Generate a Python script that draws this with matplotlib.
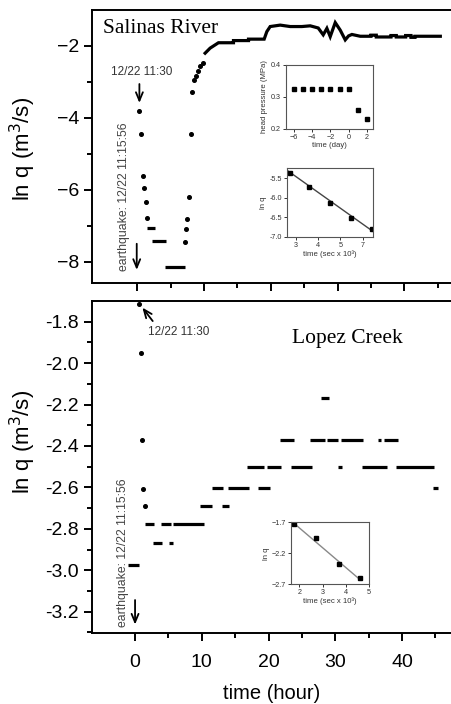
import matplotlib
matplotlib.use("Agg")
import matplotlib.pyplot as plt

plt.rcParams['font.family'] = ['Liberation Sans', 'DejaVu Sans']

# ---- Salinas River (top panel), time in hours, ln q ----
sal_dot_t = [0.3, 0.55, 0.8, 1.0, 1.26, 1.45, 7.15, 7.3, 7.5, 7.75, 8.0, 8.2, 8.55, 8.8, 9.15, 9.45, 9.8]
sal_dot_q = [-3.81, -4.45, -5.61, -5.95, -6.35, -6.79, -7.45, -7.08, -6.8, -6.2, -4.45, -3.28, -2.94, -2.83, -2.69, -2.57, -2.48]
sal_run_t0 = [1.4, 2.15, 4.15]
sal_run_t1 = [2.65, 4.3, 7.15]
sal_run_q = [-7.07, -7.43, -8.15]
sal_trace_t = [10.15, 10.9, 11.65, 12.15, 14.4, 14.4, 16.65, 16.65, 19.0, 19.4, 19.9,
               21.4, 22.9, 24.65, 25.9, 27.1, 27.85, 28.4, 28.9, 29.65, 30.4,
               31.15, 31.65, 32.15, 33.4, 35.0, 35.0, 35.8, 35.8, 38.0, 38.0,
               38.8, 38.8, 40.2, 40.2, 41.0, 41.0, 41.6, 41.6, 45.4]
sal_trace_q = [-2.2, -2.06, -1.97, -1.91, -1.91, -1.85, -1.85, -1.81, -1.81, -1.6, -1.46,
               -1.42, -1.46, -1.46, -1.44, -1.5, -1.69, -1.51, -1.74, -1.35, -1.56,
               -1.83, -1.72, -1.68, -1.73, -1.73, -1.70, -1.70, -1.75, -1.75, -1.71,
               -1.71, -1.75, -1.75, -1.71, -1.71, -1.76, -1.76, -1.73, -1.73]

# ---- Lopez Creek (bottom panel) ----
lop_dot_t = [0.65, 0.85, 1.0, 1.25, 1.5]
lop_dot_q = [-1.715, -1.95, -2.37, -2.61, -2.69]
lop_run_t0 = [-1.0, 1.5, 3.85, 5.75, 2.65, 5.15, 9.7, 13.0, 11.6, 14.0, 18.5, 44.7,
              16.85, 19.75, 23.4, 30.35, 33.95, 39.15, 21.65, 26.25, 28.8, 30.8, 36.4, 37.25, 27.9]
lop_run_t1 = [0.65, 2.9, 5.35, 10.35, 4.1, 5.7, 11.55, 14.1, 13.15, 17.15, 20.15, 45.4,
              19.25, 21.85, 26.5, 31.0, 37.7, 44.75, 23.75, 28.5, 30.4, 34.15, 36.9, 39.35, 29.0]
lop_run_q = [-2.975, -2.775, -2.775, -2.775, -2.87, -2.87, -2.69, -2.69, -2.605, -2.605, -2.605, -2.605,
             -2.5, -2.5, -2.5, -2.5, -2.5, -2.5, -2.37, -2.37, -2.37, -2.37, -2.37, -2.37, -2.17]

# ---- insets ----
head_day = [-6, -5, -4, -3, -2, -1, 0, 1, 2]
head_mpa = [0.326, 0.326, 0.326, 0.326, 0.326, 0.326, 0.326, 0.258, 0.232]
sal_fit_t = [2.73, 3.6, 4.53, 5.46, 6.4]
sal_fit_q = [-5.355, -5.72, -6.13, -6.52, -6.81]
sal_line_t = [2.62, 6.48]
sal_line_q = [-5.3, -6.87]
lop_fit_t = [1.78, 2.73, 3.69, 4.63]
lop_fit_q = [-1.73, -1.96, -2.37, -2.6]
lop_line_t = [1.78, 4.63]
lop_line_q = [-1.72, -2.63]

fig = plt.figure(figsize=(4.51, 7.04), dpi=100)
ax1 = fig.add_axes([0.2033, 0.5984, 0.7967, 0.3874])
ax2 = fig.add_axes([0.2033, 0.1004, 0.7967, 0.4725])

for ax in (ax1, ax2):
    ax.spines['right'].set_visible(False)
    for s in ('left', 'top', 'bottom'):
        ax.spines[s].set_linewidth(1.4)
    ax.tick_params(which='both', direction='out', width=1.4, labelsize=14, pad=3)
    ax.tick_params(which='major', length=6)
    ax.tick_params(which='minor', length=3.5)
    ax.set_xticks([0, 10, 20, 30, 40])
    ax.set_xticks([5, 15, 25, 35, 45], minor=True)

# top panel
ax1.plot(sal_dot_t, sal_dot_q, 'o', color='black', markersize=2.6)
ax1.hlines(sal_run_q, sal_run_t0, sal_run_t1, color='black', linewidth=2.3)
ax1.plot(sal_trace_t, sal_trace_q, color='black', linewidth=2.3, solid_joinstyle='miter')
ax1.set_xlim(-6.85, 47.0)
ax1.set_ylim(-8.58, -1.0)
ax1.set_yticks([-2, -4, -6, -8])
ax1.set_yticks([-3, -5, -7], minor=True)
ax1.tick_params(axis='x', labelbottom=False)
ax1.set_ylabel('ln q (m$^3$/s)', fontsize=16)
ax1.yaxis.set_label_coords(-0.149, 0.492)
ax1.text(-5.1, -1.51, 'Salinas River', family='Liberation Serif', fontsize=15.5, va='center', ha='left')
ax1.text(0.66, -2.71, '12/22 11:30', fontsize=8.5, color='#333333', ha='center', va='center')
ax1.annotate('', xy=(0.3, -3.66), xytext=(0.3, -2.98),
             arrowprops=dict(arrowstyle='->,head_width=0.25,head_length=0.6', color='black', lw=1.3))
ax1.text(-1.95, -6.19, 'earthquake: 12/22 11:15:56', rotation=90, fontsize=8.8,
         color='#444444', ha='center', va='center')
ax1.annotate('', xy=(-0.1, -8.3), xytext=(-0.1, -7.42),
             arrowprops=dict(arrowstyle='->,head_width=0.25,head_length=0.6', color='black', lw=1.3))

# bottom panel
ax2.plot(lop_dot_t, lop_dot_q, 'o', color='black', markersize=2.6)
ax2.hlines(lop_run_q, lop_run_t0, lop_run_t1, color='black', linewidth=2.3)
ax2.set_xlim(-6.5, 47.35)
ax2.set_ylim(-3.304, -1.699)
ax2.set_yticks([-1.8, -2.0, -2.2, -2.4, -2.6, -2.8, -3.0, -3.2])
ax2.set_yticks([-1.9, -2.1, -2.3, -2.5, -2.7, -2.9, -3.1, -3.3], minor=True)
ax2.yaxis.set_major_formatter(matplotlib.ticker.FormatStrFormatter('%.1f'))
ax2.tick_params(axis='x', pad=9)
ax2.set_xlabel('time (hour)', fontsize=14.5)
ax2.xaxis.set_label_coords(0.5, -0.152)
ax2.set_ylabel('ln q (m$^3$/s)', fontsize=16)
ax2.yaxis.set_label_coords(-0.149, 0.574)
ax2.text(23.5, -1.88, 'Lopez Creek', family='Liberation Serif', fontsize=15.5, va='center', ha='left')
ax2.text(6.6, -1.85, '12/22 11:30', fontsize=8.5, color='#333333', ha='center', va='center')
ax2.annotate('', xy=(0.85, -1.722), xytext=(2.9, -1.808),
             arrowprops=dict(arrowstyle='->,head_width=0.25,head_length=0.6', color='black', lw=1.3))
ax2.text(-1.75, -2.917, 'earthquake: 12/22 11:15:56', rotation=90, fontsize=8.8,
         color='#444444', ha='center', va='center')
ax2.annotate('', xy=(0.0, -3.275), xytext=(0.0, -3.13),
             arrowprops=dict(arrowstyle='->,head_width=0.25,head_length=0.6', color='black', lw=1.3))


def style_inset(ax):
    for s in ax.spines.values():
        s.set_linewidth(0.8)
        s.set_color('#555555')
    ax.tick_params(which='both', direction='out', length=2, width=0.7, labelsize=5.2,
                   pad=1.5, colors='#333333', top=False, right=False)


in1 = fig.add_axes([0.6335, 0.8168, 0.1942, 0.0909])
style_inset(in1)
in1.plot(head_day, head_mpa, 's', color='black', markersize=2.6)
in1.set_xlim(-6.9, 2.7)
in1.set_ylim(0.2, 0.4)
in1.set_xticks([-6, -4, -2, 0, 2])
in1.set_yticks([0.2, 0.3, 0.4])
in1.set_xlabel('time (day)', fontsize=5.6, labelpad=1, color='#333333')
in1.set_ylabel('head pressure (MPa)', fontsize=5.6, labelpad=2, color='#333333')

in2 = fig.add_axes([0.637, 0.6638, 0.1907, 0.0972])
style_inset(in2)
in2.plot(sal_line_t, sal_line_q, color='#444444', linewidth=1.0)
in2.plot(sal_fit_t, sal_fit_q, 's', color='black', markersize=2.8)
in2.set_xlim(2.61, 6.48)
in2.set_ylim(-7.0, -5.24)
in2.set_xticks([3, 4, 5, 6])
in2.set_xticklabels(['3', '4', '5', '7'])
in2.set_yticks([-5.5, -6.0, -6.5, -7.0])
in2.yaxis.set_major_formatter(matplotlib.ticker.FormatStrFormatter('%.1f'))
in2.set_xlabel('time (sec x 10³)', fontsize=5.6, labelpad=1, color='#333333')
in2.set_ylabel('ln q', fontsize=5.6, labelpad=2, color='#333333')

in3 = fig.add_axes([0.6452, 0.17, 0.173, 0.0881])
style_inset(in3)
in3.plot(lop_line_t, lop_line_q, color='#888888', linewidth=1.0)
in3.plot(lop_fit_t, lop_fit_q, 's', color='black', markersize=2.8)
in3.set_xlim(1.64, 5.0)
in3.set_ylim(-2.7, -1.7)
in3.set_xticks([2, 3, 4, 5])
in3.set_yticks([-1.7, -2.2, -2.7])
in3.set_xlabel('time (sec x 10³)', fontsize=5.6, labelpad=1, color='#333333')
in3.set_ylabel('ln q', fontsize=5.6, labelpad=1, color='#333333')

fig.savefig('out.png', dpi=100)
